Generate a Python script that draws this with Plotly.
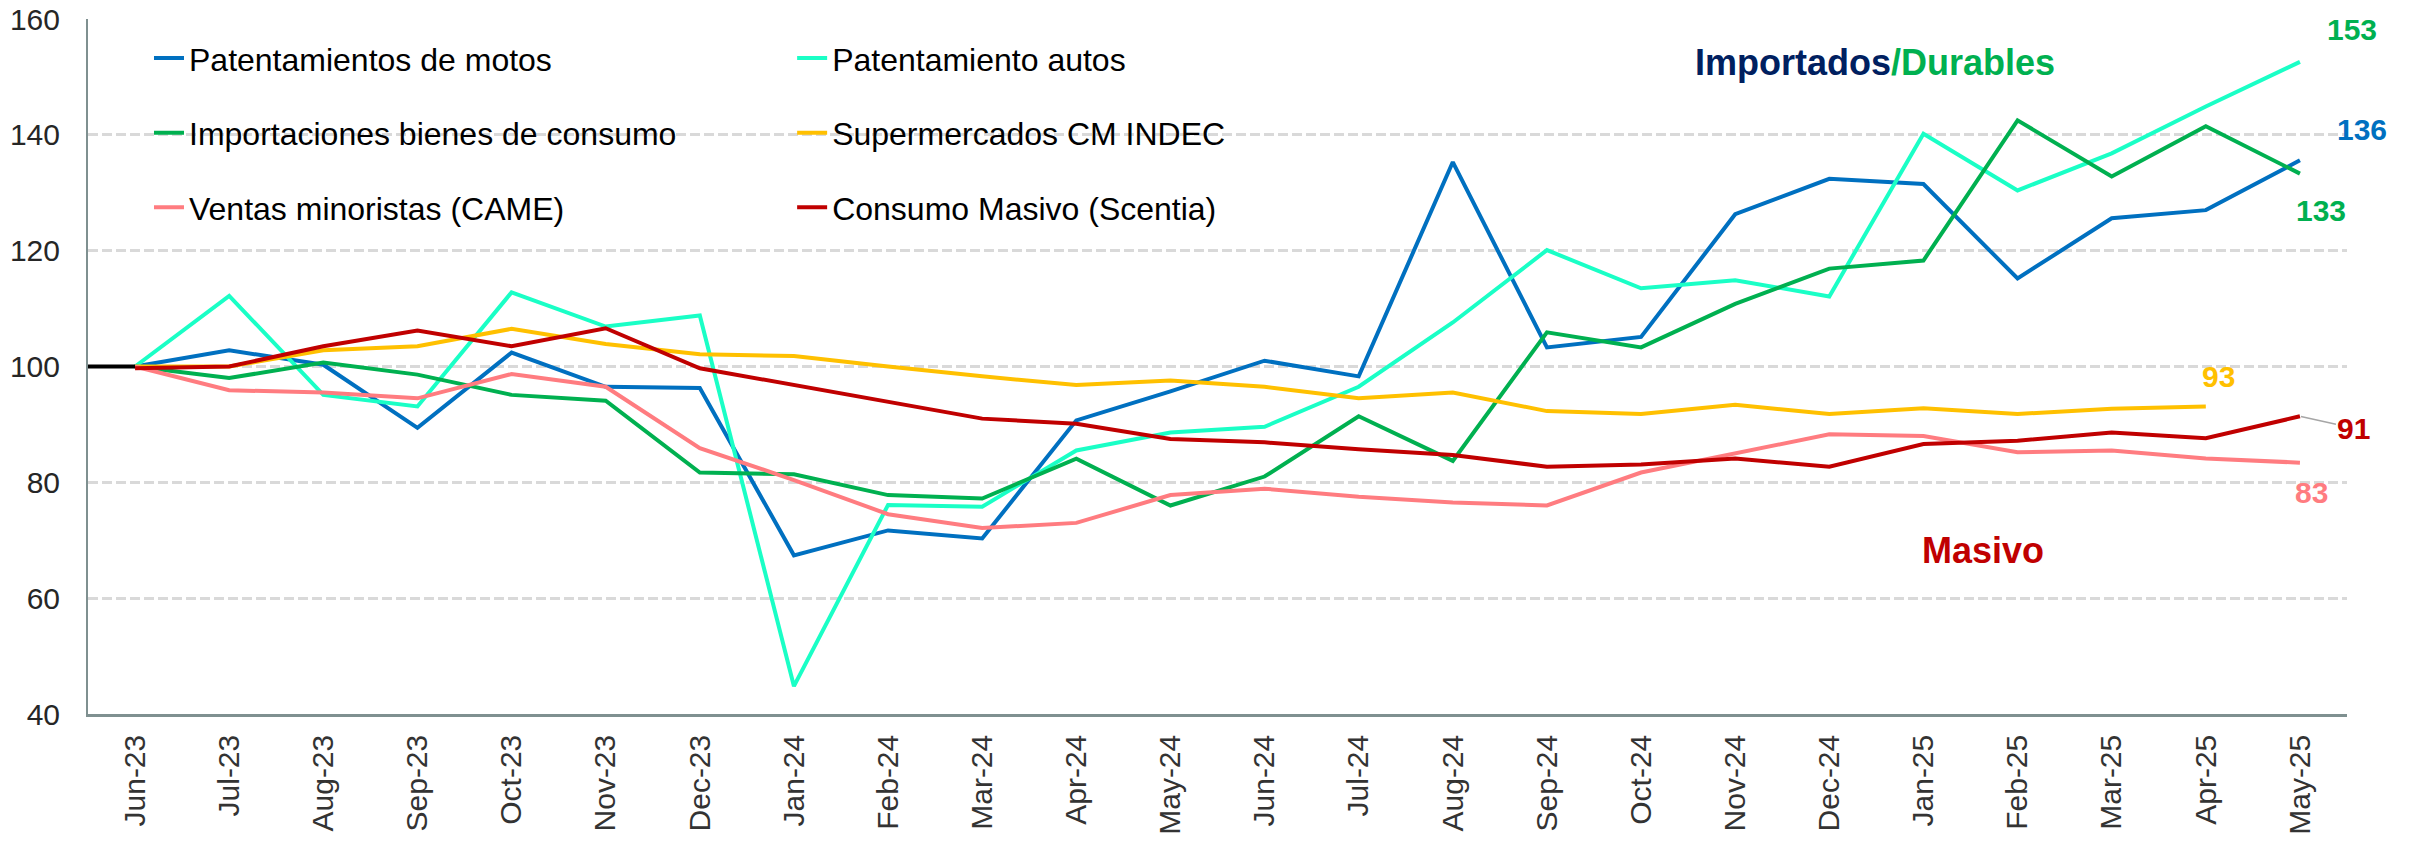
import plotly.graph_objects as go

months = ["Jun-23", "Jul-23", "Aug-23", "Sep-23", "Oct-23", "Nov-23", "Dec-23",
          "Jan-24", "Feb-24", "Mar-24", "Apr-24", "May-24", "Jun-24", "Jul-24",
          "Aug-24", "Sep-24", "Oct-24", "Nov-24", "Dec-24", "Jan-25", "Feb-25",
          "Mar-25", "Apr-25", "May-25"]

motos = [100, 102.8, 100.3, 89.4, 102.4, 96.5, 96.3, 67.4, 71.7, 70.3, 90.7, 95.7,
         101.0, 98.3, 135.3, 103.3, 105.1, 126.3, 132.4, 131.5, 115.2, 125.6, 127.0, 135.6]
autos = [100, 112.2, 95.1, 93.1, 112.8, 106.9, 108.8, 44.8, 76.1, 75.8, 85.5, 88.6,
         89.6, 96.5, 107.6, 120.1, 113.5, 114.9, 112.1, 140.2, 130.4, 136.8, 144.9, 152.6]
importaciones = [100, 98.0, 100.7, 98.6, 95.1, 94.1, 81.7, 81.4, 77.8, 77.2, 84.1, 76.0,
                 81.0, 91.4, 83.7, 105.9, 103.3, 110.8, 116.9, 118.3, 142.5, 132.8, 141.5, 133.3]
supermercados = [100, 100, 102.8, 103.5, 106.5, 103.9, 102.1, 101.8, 100, 98.3, 96.8, 97.6,
                 96.5, 94.5, 95.5, 92.3, 91.8, 93.4, 91.8, 92.8, 91.8, 92.7, 93.1, None]
ventas = [100, 95.9, 95.5, 94.5, 98.7, 96.5, 85.9, 80.4, 74.5, 72.1, 73.0, 77.8,
          78.9, 77.5, 76.5, 76.0, 81.7, 85.0, 88.3, 88.0, 85.2, 85.5, 84.1, 83.4]
consumo = [99.7, 100, 103.5, 106.2, 103.5, 106.6, 99.7, 96.8, 93.9, 91.0, 90.1, 87.5,
           86.9, 85.7, 84.7, 82.7, 83.1, 84.1, 82.7, 86.6, 87.2, 88.6, 87.6, 91.4]

BASE = 100
Y_TICKS = [40, 60, 80, 100, 120, 140, 160]

FONT = "Liberation Sans, Arial, sans-serif"
C_MOTOS = "#0070C0"
C_AUTOS = "#1AFFC6"
C_IMPO = "#00B050"
C_SUPER = "#FFC000"
C_VENTAS = "#FF7C80"
C_CONSUMO = "#C00000"
C_NAVY = "#002060"

series = [
    ("Patentamientos de motos", motos, C_MOTOS, "legend"),
    ("Patentamiento autos", autos, C_AUTOS, "legend2"),
    ("Importaciones bienes de consumo", importaciones, C_IMPO, "legend"),
    ("Supermercados CM INDEC", supermercados, C_SUPER, "legend2"),
    ("Ventas minoristas (CAME)", ventas, C_VENTAS, "legend"),
    ("Consumo Masivo (Scentia)", consumo, C_CONSUMO, "legend2"),
]

fig = go.Figure()
for i, (name, vals, color, leg) in enumerate(series):
    fig.add_trace(go.Scatter(
        x=months, y=vals, name=name, mode="lines",
        line=dict(color=color, width=4),
        legend=leg, legendgroup=f"g{i}", connectgaps=False,
    ))

# base line segment from axis to first month
x_start = -0.5
fig.add_shape(type="line", xref="x", yref="y", x0=x_start, x1=0, y0=BASE, y1=BASE,
              line=dict(color="black", width=4), layer="above")

def last_valid(vals):
    for idx in range(len(vals) - 1, -1, -1):
        if vals[idx] is not None:
            return idx, vals[idx]

label_specs = [
    (autos, C_IMPO, 52, 32),
    (motos, C_MOTOS, 62, 31),
    (importaciones, C_IMPO, 21, -37),
    (supermercados, C_SUPER, 13, 30),
    (ventas, C_VENTAS, 12, -30),
]
for vals, color, xs, ys in label_specs:
    idx, v = last_valid(vals)
    fig.add_annotation(x=months[idx], y=v, text=f"<b>{v:.0f}</b>", showarrow=False,
                       xshift=xs, yshift=ys, xanchor="center", yanchor="middle",
                       font=dict(family=FONT, size=30, color=color))

idx, v = last_valid(consumo)
fig.add_annotation(x=months[idx], y=v, text=f"<b>{v:.0f}</b>", showarrow=True,
                   arrowhead=0, arrowwidth=1.5, arrowcolor="#A6A6A6",
                   ax=54, ay=12, standoff=1,
                   font=dict(family=FONT, size=30, color=C_CONSUMO))

fig.add_annotation(xref="paper", yref="paper", x=0.791, y=0.938,
                   xanchor="center", yanchor="middle",
                   text=f"<b><span style='color:{C_NAVY}'>Importados</span>"
                        f"<span style='color:{C_IMPO}'>/Durables</span></b>",
                   showarrow=False, font=dict(family=FONT, size=36))
fig.add_annotation(xref="paper", yref="paper", x=0.839, y=0.2355,
                   xanchor="center", yanchor="middle",
                   text="<b>Masivo</b>", showarrow=False,
                   font=dict(family=FONT, size=36, color=C_CONSUMO))

legend_common = dict(
    orientation="v", yanchor="top", xanchor="left", bgcolor="rgba(0,0,0,0)",
    font=dict(family=FONT, size=32, color="black"), tracegroupgap=30,
)
fig.update_layout(
    width=2415, height=842,
    margin=dict(l=88, r=68, t=19, b=128, autoexpand=False),
    plot_bgcolor="white", paper_bgcolor="white",
    font=dict(family=FONT),
    showlegend=True,
    legend=dict(x=0.027, y=0.983, **legend_common),
    legend2=dict(x=0.3117, y=0.983, **legend_common),
    xaxis=dict(
        type="category", range=[x_start, len(months) - 0.5],
        tickangle=-90, showgrid=False, ticks="", automargin=False,
        showline=True, linecolor="#7F9090", linewidth=2.5,
        tickfont=dict(family=FONT, size=30, color="#333333"),
        ticklabelstandoff=6, ticklabeloverflow="allow",
    ),
    yaxis=dict(
        range=[Y_TICKS[0], Y_TICKS[-1]], tickvals=Y_TICKS, automargin=False,
        showgrid=True, gridcolor="#D9D9D9", gridwidth=3, griddash="10px,4px",
        showline=True, linecolor="#7F9090", linewidth=2, ticks="",
        zeroline=False, ticklabeloverflow="allow",
        tickfont=dict(family=FONT, size=30, color="#262626"),
        ticklabelstandoff=20,
    ),
)

fig.write_html("out.html", config={"displayModeBar": False},
               post_script="document.body.style.margin='0';document.body.style.overflow='hidden';")
